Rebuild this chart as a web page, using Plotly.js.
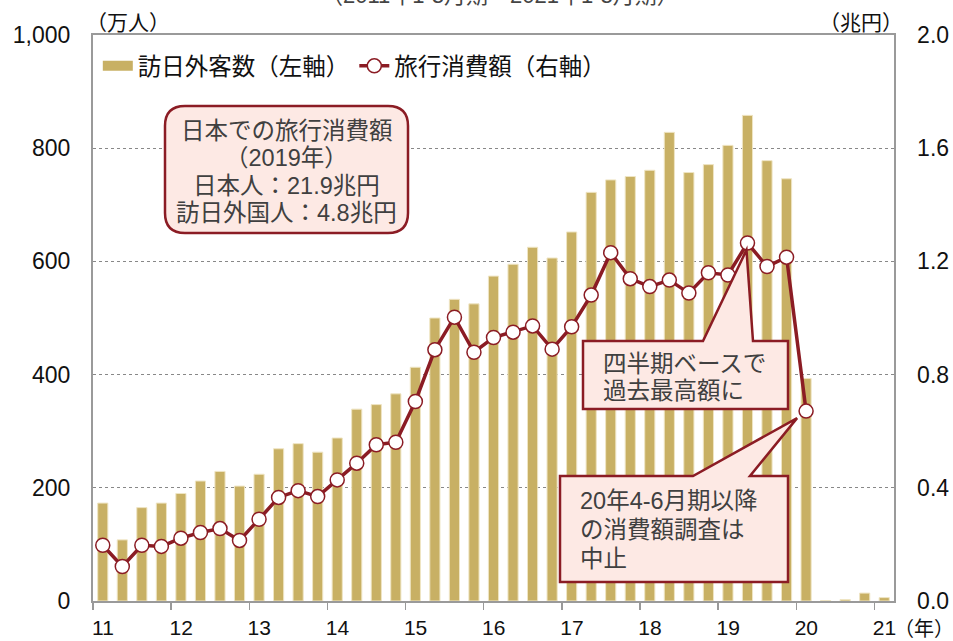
<!DOCTYPE html>
<html>
<head>
<meta charset="utf-8">
<script src="https://cdn.plot.ly/plotly-3.0.1.min.js"></script>
<style>html,body{margin:0;padding:0;background:#fff;}#chart{width:953px;height:641px;}</style>
</head>
<body>
<div id="chart"></div>
<script>
// ---- data (quarters 2011 Q1 .. 2021 Q1) ----
const quarters = [
 "11Q1","11Q2","11Q3","11Q4","12Q1","12Q2","12Q3","12Q4",
 "13Q1","13Q2","13Q3","13Q4","14Q1","14Q2","14Q3","14Q4",
 "15Q1","15Q2","15Q3","15Q4","16Q1","16Q2","16Q3","16Q4",
 "17Q1","17Q2","17Q3","17Q4","18Q1","18Q2","18Q3","18Q4",
 "19Q1","19Q2","19Q3","19Q4","20Q1","20Q2","20Q3","20Q4","21Q1"
];
// 訪日外客数（万人）
const visitors = [
 173,108,165,173, 190,212,229,203, 224,269,278,263, 288,339,347,366,
 413,500,533,525, 574,595,625,606, 652,722,744,750, 761,828,757,771,
 805,858,778,746, 393,0.7,2.6,14,6
];
// 旅行消費額（兆円）
const spending = [
 0.197,0.122,0.197,0.193, 0.222,0.242,0.256,0.214, 0.289,0.366,0.390,0.369,
 0.428,0.487,0.552,0.561, 0.705,0.888,1.003,0.879, 0.931,0.950,0.972,0.890,
 0.969,1.081,1.231,1.139, 1.111,1.134,1.088,1.160, 1.152,1.265,1.182,1.215,
 0.671
];
const yearTicks = ["11","12","13","14","15","16","17","18","19","20","21"];

// ---- layout geometry ----
const L = 93, T = 35, PW = 801, PH = 566, NQ = quarters.length;
const dx = px => (px - L) / PW * NQ;
const dy = py => (T + PH - py) / PH * 1000;
const RED = "#8B1C24", GOLD = "#C8B064", PINK = "#FDE9E4";
const FONT = "Liberation Sans, Arial, Noto Sans CJK JP, sans-serif";

const xq = quarters.map((q, i) => i + 0.5);

function pathFrom(pts) {
  return pts.map((p, i) => {
    if (p[0] === "Q") return "Q" + dx(p[1]) + "," + dy(p[2]) + " " + dx(p[3]) + "," + dy(p[4]);
    return (i === 0 ? "M" : "L") + dx(p[0]) + "," + dy(p[1]);
  }).join(" ") + " Z";
}
function rounded(x1, y1, x2, y2, r) {
  return pathFrom([
    [x1 + r, y1], [x2 - r, y1], ["Q", x2, y1, x2, y1 + r],
    [x2, y2 - r], ["Q", x2, y2, x2 - r, y2],
    [x1 + r, y2], ["Q", x1, y2, x1, y2 - r],
    [x1, y1 + r], ["Q", x1, y1, x1 + r, y1]
  ]);
}
// pixel position of a line point
const ptPx = i => [L + xq[i] / NQ * PW, T + PH - spending[i] * 500 / 1000 * PH];
const peakI = spending.indexOf(Math.max(...spending));
const lastI = spending.length - 1;
const pk = ptPx(peakI), ls = ptPx(lastI);

const shapeStyle = {type: "path", xref: "x", yref: "y", fillcolor: PINK,
  line: {color: RED, width: 2.5}, layer: "above"};

const shapes = [
  Object.assign({}, shapeStyle, {path: rounded(165, 106, 408, 233, 20)}),
  Object.assign({}, shapeStyle, {path: pathFrom([
    [583, 341], [703, 341], [pk[0] - 1, pk[1] + 7], [753, 341], [788, 341], [788, 409], [583, 409]
  ])}),
  Object.assign({}, shapeStyle, {path: pathFrom([
    [560, 476], [693, 476], [ls[0] - 9, ls[1] + 7], [750, 476], [788, 476], [788, 582], [560, 582]
  ])})
];

const boxFont = {family: FONT, size: 23.5, color: "#404040"};
function lineAnn(text, px, py, anchor) {
  return {xref: "x", yref: "y", x: dx(px), y: dy(py), xanchor: anchor, yanchor: "middle",
    text: text, showarrow: false, font: boxFont};
}
const annotations = [
  lineAnn("日本での旅行消費額", 286.5, 131, "center"),
  lineAnn("（2019年）", 286.5, 158, "center"),
  lineAnn("日本人：21.9兆円", 286.5, 185.5, "center"),
  lineAnn("訪日外国人：4.8兆円", 286.5, 213, "center"),
  lineAnn("四半期ベースで", 601, 363.5, "left"),
  lineAnn("過去最高額に", 601, 391, "left"),
  lineAnn("20年4-6月期以降", 578, 501, "left"),
  lineAnn("の消費額調査は", 578, 530, "left"),
  lineAnn("中止", 578, 558.5, "left"),
  {xref: "paper", yref: "paper", x: (84 - L) / PW, y: (T + PH - 22) / PH, xanchor: "left", yanchor: "middle",
   text: "（万人）", showarrow: false, font: {family: FONT, size: 21, color: "#111"}},
  {xref: "paper", yref: "paper", x: (905 - L) / PW, y: (T + PH - 22) / PH, xanchor: "right", yanchor: "middle",
   text: "（兆円）", showarrow: false, font: {family: FONT, size: 21, color: "#111"}},
  {xref: "paper", yref: "paper", x: (892 - L) / PW, y: (T + PH - 629) / PH, xanchor: "left", yanchor: "middle",
   text: "（年）", showarrow: false, font: {family: FONT, size: 20, color: "#111"}},
  {xref: "paper", yref: "paper", x: (500 - L) / PW, y: (T + PH + 4) / PH, xanchor: "center", yanchor: "middle",
   text: "（2011年1-3月期～2021年1-3月期）", showarrow: false, font: {family: FONT, size: 22, color: "#444"}}
];

const traces = [
  {type: "bar", x: xq, y: visitors, width: 0.52, name: "訪日外客数（左軸）",
   marker: {color: GOLD, line: {color: "#EFE5C4", width: 1}}, showlegend: false, yaxis: "y"},
  {type: "scatter", mode: "lines", x: [null], y: [null], name: "訪日外客数（左軸）",
   line: {color: GOLD, width: 10}, yaxis: "y"},
  {type: "scatter", mode: "lines+markers", x: xq.slice(0, spending.length), y: spending,
   name: "旅行消費額（右軸）", yaxis: "y2",
   line: {color: RED, width: 3.5},
   marker: {symbol: "circle", size: 14, color: "#fff", line: {color: RED, width: 1.5}}}
];

const tickFont = {family: FONT, size: 23, color: "#111"};
const layout = {
  width: 953, height: 641,
  margin: {l: L, r: 953 - L - PW, t: T, b: 641 - T - PH, pad: 0},
  paper_bgcolor: "#fff", plot_bgcolor: "#fff",
  font: {family: FONT, size: 22, color: "#111"},
  showlegend: true,
  legend: {orientation: "h", x: 0.006, y: 0.984, xanchor: "left", yanchor: "top",
    bgcolor: "rgba(0,0,0,0)", font: {family: FONT, size: 23.5, color: "#111"},
    itemwidth: 30, tracegroupgap: 0},
  xaxis: {range: [0, NQ], tickmode: "array",
    tickvals: yearTicks.map((t, i) => i * 4), ticktext: yearTicks,
    ticks: "outside", ticklen: 7, tickcolor: "#999", tickwidth: 1.5,
    ticklabelshift: 10, showgrid: false, zeroline: false,
    showline: true, linecolor: "#9a9a9a", linewidth: 2, mirror: true,
    tickfont: {family: FONT, size: 21, color: "#111"}, fixedrange: true},
  yaxis: {range: [0, 1000], tickmode: "array", tickvals: [0, 200, 400, 600, 800, 1000],
    ticktext: ["0", "200", "400", "600", "800", "1,000"],
    showgrid: true, gridcolor: "#888", griddash: "dot", gridwidth: 1,
    zeroline: false, showline: true, linecolor: "#9a9a9a", linewidth: 2,
    ticks: "", ticklabelstandoff: 16, tickfont: tickFont},
  yaxis2: {range: [0, 2], overlaying: "y", side: "right", tickmode: "array",
    tickvals: [0, 0.4, 0.8, 1.2, 1.6, 2.0], ticktext: ["0.0", "0.4", "0.8", "1.2", "1.6", "2.0"],
    showgrid: false, zeroline: false, showline: true, linecolor: "#9a9a9a", linewidth: 1.5,
    ticks: "", ticklabelstandoff: 17, tickfont: tickFont},
  bargap: 0.48,
  shapes: shapes,
  annotations: annotations
};

Plotly.newPlot("chart", traces, layout, {displayModeBar: false, staticPlot: true});
</script>
</body>
</html>
